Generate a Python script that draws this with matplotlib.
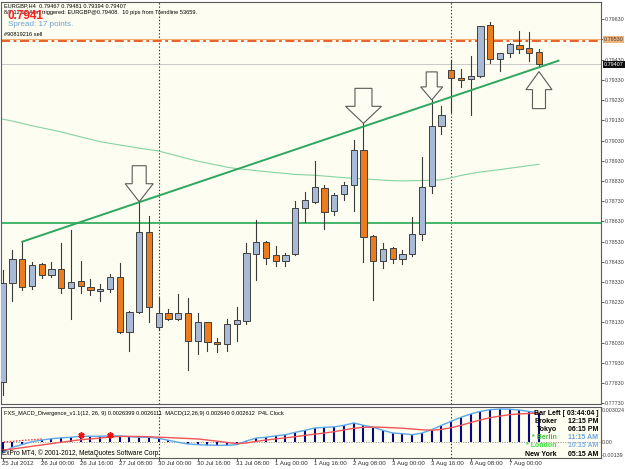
import matplotlib
matplotlib.use("Agg")
import matplotlib.pyplot as plt
from matplotlib.patches import Rectangle, Polygon

plt.rcParams['font.family'] = ['Liberation Sans', 'DejaVu Sans']

# EURGBP H4 bars, 25 Jul 2012 08:00 .. 7 Aug 2012 12:00
opens = [0.77836, 0.78323, 0.78442, 0.78310, 0.78417, 0.78363, 0.78394, 0.78301, 0.78333, 0.78303,
         0.78287, 0.78293, 0.78353, 0.78084, 0.78183, 0.78576, 0.78105, 0.78175, 0.78146, 0.78175,
         0.78039, 0.78130, 0.78031, 0.78021, 0.78120, 0.78138, 0.78467, 0.78529, 0.78463, 0.78434,
         0.78467, 0.78694, 0.78727, 0.78793, 0.78680, 0.78764, 0.78808, 0.78982, 0.78557, 0.78434,
         0.78496, 0.78442, 0.78467, 0.78566, 0.78805, 0.79102, 0.79378, 0.79339, 0.79333, 0.79351,
         0.79600, 0.79432, 0.79462, 0.79501, 0.79486, 0.79467]
highs = [0.78389, 0.78488, 0.78529, 0.78429, 0.78425, 0.78429, 0.78521, 0.78587, 0.78435, 0.78343,
         0.78318, 0.78369, 0.78422, 0.78188, 0.78727, 0.78656, 0.78252, 0.78196, 0.78269, 0.78249,
         0.78178, 0.78132, 0.78054, 0.78145, 0.78207, 0.78521, 0.78637, 0.78534, 0.78509, 0.78475,
         0.78731, 0.78777, 0.78930, 0.78810, 0.78769, 0.78826, 0.79033, 0.79115, 0.78560, 0.78521,
         0.78504, 0.78488, 0.78650, 0.78950, 0.79231, 0.79201, 0.79429, 0.79382, 0.79450, 0.79598,
         0.79615, 0.79464, 0.79514, 0.79574, 0.79566, 0.79481]
lows = [0.77770, 0.78237, 0.78290, 0.78293, 0.78348, 0.78353, 0.78274, 0.78145, 0.78277, 0.78265,
        0.78237, 0.78279, 0.78076, 0.77990, 0.78178, 0.78130, 0.78092, 0.78142, 0.78142, 0.77894,
        0.77972, 0.77988, 0.77982, 0.77990, 0.78039, 0.78122, 0.78340, 0.78417, 0.78410, 0.78410,
        0.78462, 0.78628, 0.78719, 0.78593, 0.78660, 0.78736, 0.78681, 0.78430, 0.78241, 0.78397,
        0.78422, 0.78417, 0.78460, 0.78538, 0.78769, 0.79062, 0.79171, 0.79293, 0.79156, 0.79346,
        0.79412, 0.79374, 0.79442, 0.79462, 0.79425, 0.79394]
closes = [0.78323, 0.78442, 0.78306, 0.78412, 0.78363, 0.78394, 0.78301, 0.78328, 0.78310, 0.78290,
          0.78295, 0.78353, 0.78084, 0.78183, 0.78576, 0.78204, 0.78178, 0.78146, 0.78175, 0.78039,
          0.78130, 0.78031, 0.78021, 0.78120, 0.78142, 0.78472, 0.78529, 0.78450, 0.78434, 0.78463,
          0.78697, 0.78736, 0.78798, 0.78676, 0.78760, 0.78808, 0.78982, 0.78551, 0.78434, 0.78494,
          0.78442, 0.78467, 0.78566, 0.78798, 0.79102, 0.79156, 0.79339, 0.79330, 0.79349, 0.79595,
          0.79433, 0.79462, 0.79506, 0.79481, 0.79462, 0.79407]

# slow moving average (thin green curve)
ma_line = [0.79136, 0.79126, 0.79115, 0.79103, 0.79093, 0.79083, 0.79072, 0.79060, 0.79048, 0.79036,
           0.79024, 0.79016, 0.79008, 0.79000, 0.78992, 0.78985, 0.78978, 0.78965, 0.78953, 0.78940,
           0.78928, 0.78918, 0.78908, 0.78898, 0.78891, 0.78886, 0.78881, 0.78876, 0.78871, 0.78867,
           0.78862, 0.78860, 0.78858, 0.78854, 0.78850, 0.78846, 0.78843, 0.78840, 0.78837, 0.78834,
           0.78831, 0.78830, 0.78831, 0.78832, 0.78833, 0.78835, 0.78846, 0.78857, 0.78866, 0.78874,
           0.78880, 0.78886, 0.78893, 0.78899, 0.78906, 0.78912]

# MACD(12,26,9)
macd_main = [-0.00090, -0.00045, -0.00020, 0.00005, 0.00020, 0.00032, 0.00040, 0.00045, 0.00054, 0.00054,
             0.00054, 0.00058, 0.00058, 0.00050, 0.00045, 0.00045, 0.00035, 0.00018, 0.00000, -0.00015,
             -0.00021, -0.00025, -0.00027, -0.00027, -0.00021, 0.00012, 0.00038, 0.00045, 0.00058, 0.00068,
             0.00089, 0.00107, 0.00128, 0.00134, 0.00138, 0.00152, 0.00173, 0.00152, 0.00134, 0.00107,
             0.00083, 0.00077, 0.00068, 0.00083, 0.00113, 0.00152, 0.00188, 0.00224, 0.00253, 0.00277,
             0.00292, 0.00298, 0.00296, 0.00288, 0.00276, 0.00264]
macd_signal = [-0.00070, -0.00060, -0.00048, -0.00036, -0.00024, -0.00012, 0.00000, 0.00012, 0.00023, 0.00030,
               0.00038, 0.00048, 0.00052, 0.00053, 0.00052, 0.00050, 0.00046, 0.00042, 0.00038, 0.00034,
               0.00030, 0.00020, 0.00010, -0.00001, -0.00012, -0.00006, 0.00008, 0.00020, 0.00030, 0.00040,
               0.00050, 0.00062, 0.00073, 0.00083, 0.00095, 0.00110, 0.00125, 0.00134, 0.00136, 0.00134,
               0.00130, 0.00126, 0.00119, 0.00112, 0.00108, 0.00115, 0.00130, 0.00152, 0.00177, 0.00200,
               0.00220, 0.00235, 0.00247, 0.00254, 0.00258, 0.00261]
div_line_idx = [-0.2, 4]
div_line_val = [0.00000, 0.00030]
div_marks_idx = [8, 11]
div_marks_val = [0.00068, 0.00068]

# objects on the chart
hline_green = 0.78623
order_price = 0.79530
order_line2 = 0.79521
trend_idx = [2, 57]
trend_price = [0.78529, 0.79425]
separators = [16, 46]
arrow_idx = [14, 37, 44, 55]
arrow_tip = [0.78727, 0.79115, 0.79231, 0.79371]
arrow_dir = ['down', 'down', 'down', 'up']
# head width, head height, shaft width, shaft height (pixels)
arrow_size = [(28, 18, 14, 18), (36, 17, 17, 18), (22, 13, 11, 15), (26, 18, 13, 19)]

date_idx = [0, 4, 8, 12, 16, 20, 24, 28, 32, 36, 40, 44, 48, 52]
date_labels = ['25 Jul 2012', '26 Jul 00:00', '26 Jul 16:00', '27 Jul 08:00', '30 Jul 00:00',
               '30 Jul 16:00', '31 Jul 08:00', '1 Aug 00:00', '1 Aug 16:00', '2 Aug 08:00',
               '3 Aug 00:00', '3 Aug 16:00', '6 Aug 08:00', '7 Aug 00:00']
price_ticks = [0.7773 + 0.001 * k for k in range(20)]

W, H = 625, 469
fig = plt.figure(figsize=(W / 100, H / 100), dpi=100)
fig.patch.set_facecolor('white')

def px(x, y):
    return x / W, 1 - y / H

bg = '#fdfdf1'
ax = fig.add_axes([1 / W, (H - 404) / H, 600 / W, 402 / H], facecolor=bg)
ax2 = fig.add_axes([1 / W, (H - 458) / H, 600 / W, 51 / H], facecolor=bg)

xmin, xmax = -0.174, 61.36
ax.set_xlim(xmin, xmax)
ax.set_ylim(0.777257, 0.797156)
ax2.set_xlim(xmin, xmax)
ax2.set_ylim(-0.001405, 0.003158)

for a in (ax, ax2):
    for s in a.spines.values():
        s.set_color('#5a5a5a')
        s.set_linewidth(0.8)

# candles
bull_c, bear_c, edge_c = '#a8bad6', '#ec7c1e', '#404040'
for i in range(len(opens)):
    o, h, l, c = opens[i], highs[i], lows[i], closes[i]
    ax.plot([i, i], [l, h], color='#3a3a3a', lw=0.8, zorder=3)
    lo, hi = min(o, c), max(o, c)
    ax.add_patch(Rectangle((i - 0.32, lo), 0.64, max(hi - lo, 0.00002),
                           facecolor=bull_c if c >= o else bear_c,
                           edgecolor=edge_c, lw=0.7, zorder=4))

ax.plot(range(len(ma_line)), ma_line, color='#86d3a2', lw=0.8, zorder=2)
ax.axhline(hline_green, color='#45b36c', lw=1.4, zorder=2)
ax.plot(trend_idx, trend_price, color='#2ea65e', lw=1.4, zorder=5)
ax.axhline(order_price, color='#f2ad70', lw=0.8, zorder=2)
ax.axhline(order_line2, color='#e4561c', lw=1.3, dashes=(5, 2, 1.5, 2), zorder=2)
ax.axhline(closes[-1], color='#c9c9c9', lw=0.7, zorder=1)
for s in separators:
    ax.axvline(s, color='#303030', lw=0.8, ls=(0, (1.2, 1.8)), zorder=1)
    ax2.axvline(s, color='#303030', lw=0.8, ls=(0, (1.2, 1.8)), zorder=1)

# block arrows
sx = 600 / (xmax - xmin)
sy = 402 / (0.797156 - 0.777257)
for i, tip, d, (hw, hh, sw, sh) in zip(arrow_idx, arrow_tip, arrow_dir, arrow_size):
    k = 1 if d == 'down' else -1
    pts = [(0, 0), (hw / 2, hh), (sw / 2, hh), (sw / 2, hh + sh),
           (-sw / 2, hh + sh), (-sw / 2, hh), (-hw / 2, hh)]
    poly = [(i + dx / sx, tip + k * dy / sy) for dx, dy in pts]
    ax.add_patch(Polygon(poly, closed=True, facecolor=bg, edgecolor='#5a5a5a', lw=0.8, zorder=6))

# right price scale
lab_fs = 3.9
ax.yaxis.tick_right()
ax.set_yticks(price_ticks)
ax.set_yticklabels(['' if abs(p - order_price) < 1e-6 else '%.5f' % p for p in price_ticks])
ax.tick_params(axis='y', length=2, width=0.6, pad=1, labelsize=lab_fs, colors='#404040')
ax.set_xticks([])
ax.text(1.0045, order_price, '%.5f' % order_price, transform=ax.get_yaxis_transform(), fontsize=lab_fs,
        va='center', ha='left', color='#404040',
        bbox=dict(boxstyle='square,pad=0.15', fc='#f2b47a', ec='none'), zorder=7)
ax.text(1.0045, closes[-1], '%.5f' % closes[-1], transform=ax.get_yaxis_transform(), fontsize=lab_fs,
        va='center', ha='left', color='white',
        bbox=dict(boxstyle='square,pad=0.2', fc='#101010', ec='none'), zorder=8)

# MACD window
ax2.vlines(range(len(macd_main)), 0, macd_main, color='#0a0a80', lw=1.5, zorder=3)
ax2.plot(range(len(macd_main)), macd_main, color='#5aa8ee', lw=1.0, zorder=4)
ax2.plot(range(len(macd_signal)), macd_signal, color='#f05454', lw=1.0, zorder=4)
ax2.plot(div_line_idx, div_line_val, color='#f03030', lw=1.0, ls=(0, (1, 1.2)), zorder=4)
ax2.plot(div_marks_idx, div_marks_val, ls='none', marker=(6, 2, 0), color='#ee1111',
         ms=4.5, mew=1.2, zorder=5)
ax2.axhline(0, color='#909090', lw=0.7, ls=(0, (1, 1.5)), zorder=1)
ax2.set_yticks([])
ax2.set_xticks(date_idx)
ax2.set_xticklabels([])
ax2.tick_params(axis='x', length=2, width=0.6, colors='#404040')
for v, va in [(0.003024, 'top'), (0.0, 'center'), (-0.00139, 'bottom')]:
    lab = '0.00' if v == 0 else ('%.6f' % v if v > 0 else '%.5f' % v)
    ax2.text(1.002, v, lab, transform=ax2.get_yaxis_transform(), fontsize=lab_fs,
             va=va, ha='left', color='#404040')
for i, lab in zip(date_idx, date_labels):
    ax2.text(i - 0.1, -0.11, lab, transform=ax2.get_xaxis_transform(), fontsize=4.4,
             va='center', ha='left', color='#303030')

# texts in the main window
fs = 4.1
fig.text(*px(4, 5.5), 'EURGBP,H4  0.79467 0.79481 0.79394 0.79407', fontsize=fs, va='center')
fig.text(*px(4, 12.5), '8/7 12:15 Alert triggered: EURGBP@0.79408.  10 pips from Trendline 53659.',
         fontsize=fs, va='center')
fig.text(*px(8, 16), '0.7941', fontsize=8.5, fontweight='bold', color='#ff2020', va='center')
fig.text(*px(8, 25), 'Spread: 17 points.', fontsize=5.8, color='#6aa2d2', va='center')
fig.text(*px(4, 35), '#90819216 sell', fontsize=fs, va='center')

# texts in the MACD window
fig.text(*px(4, 413), 'FXS_MACD_Divergence_v1.1(12, 26, 9) 0.0026399 0.0026111  '
         'MACD(12,26,9) 0.002640 0.002612  P4L Clock', fontsize=4.1, va='center')
fig.text(*px(2, 453.5), 'ExPro MT4, \u00a9 2001-2012, MetaQuotes Software Corp.', fontsize=4.7,
         va='center')
fig.text(*px(598, 413), 'Bar Left [ 03:44:04 ]', fontsize=5, fontweight='bold', ha='right', va='center')
clock_rows = [('Broker', '12:15 PM', 'black', 'black', 421.3),
              ('Tokyo', '06:15 PM', 'black', 'black', 429),
              ('* Berlin', '11:15 AM', '#3cc43c', '#6ea4d8', 437.3),
              ('* London', '10:15 AM', '#3ce03c', '#80b2e4', 445.7),
              ('New York', '05:15 AM', 'black', 'black', 454)]
for name, t, c1, c2, y in clock_rows:
    fig.text(*px(557, y), name, fontsize=5, fontweight='bold', color=c1, ha='right', va='center')
    fig.text(*px(598, y), t, fontsize=5, fontweight='bold', color=c2, ha='right', va='center')

fig.savefig('out.png', dpi=100)
